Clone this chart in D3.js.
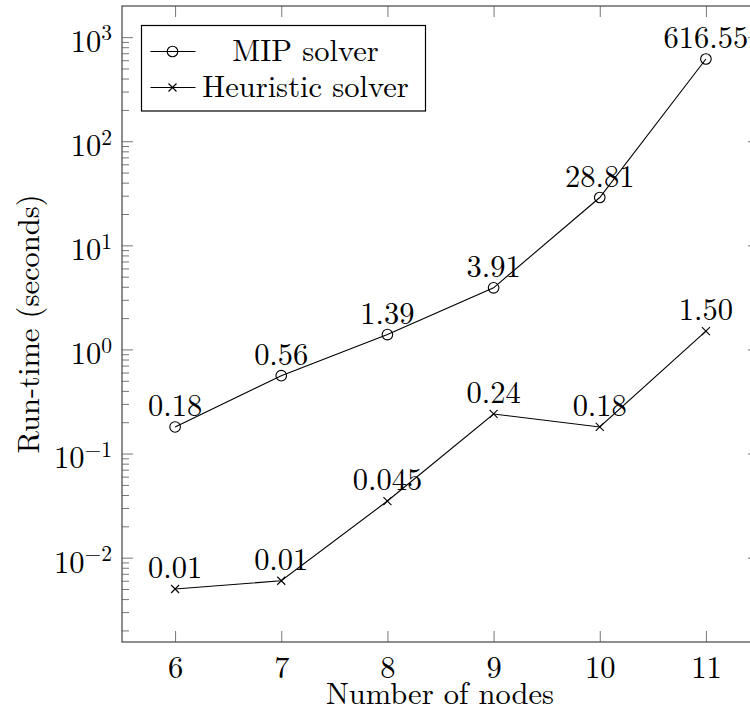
<!DOCTYPE html>
<html>
<head>
<meta charset="utf-8">
<script src="https://cdn.jsdelivr.net/npm/d3@7"></script>
<style>
  body { margin: 0; background: #fff; overflow: hidden; }
  svg { display: block; overflow: hidden; }
  .tick line { stroke: #777; stroke-width: 1; }
  .tick text { fill: #000; font-size: 30.5px; }
</style>
</head>
<body>
<svg id="chart"></svg>
<script>
// number of nodes (x axis)
var nodes = [6, 7, 8, 9, 10, 11];
// run-time in seconds
var mipTimes  = [0.18, 0.56, 1.39, 3.91, 28.81, 616.55];
var heurTimes = [0.005, 0.006, 0.035, 0.24, 0.18, 1.50];
// the texts written above each point
var mipLabels  = ["0.18", "0.56", "1.39", "3.91", "28.81", "616.55"];
var heurLabels = ["0.01", "0.01", "0.045", "0.24", "0.18", "1.50"];
// major y ticks are powers of ten
var decades = [-2, -1, 0, 1, 2, 3];
var seriesNames = ["MIP solver", "Heuristic solver"];

var serif = "Latin Modern Roman";
var fs = "30.5px";
var svgWidth = 750, svgHeight = 722;
var margin = { top: 6, left: 122 };
var plotWidth = 637, plotHeight = 636;

var svg = d3.select("#chart")
  .attr("width", svgWidth)
  .attr("height", svgHeight)
  .attr("font-family", serif);

// pgfplots style: enlarge limits by 10%
var xPad = (d3.max(nodes) - d3.min(nodes)) * 0.1;
var x = d3.scaleLinear()
  .domain([d3.min(nodes) - xPad, d3.max(nodes) + xPad])
  .range([0, plotWidth]);

var allTimes = mipTimes.concat(heurTimes);
var lo = Math.log10(d3.min(allTimes)), hi = Math.log10(d3.max(allTimes));
var yPad = (hi - lo) * 0.1;
var y = d3.scaleLog()
  .domain([Math.pow(10, lo - yPad), Math.pow(10, hi + yPad)])
  .range([plotHeight, 0]);

var plot = svg.append("g")
  .attr("transform", "translate(" + margin.left + "," + margin.top + ")");

var majors = decades.map(d => Math.pow(10, d));
// minor ticks 2..9 in every decade that falls in the domain
var minors = [];
d3.range(decades[0] - 1, decades[decades.length - 1] + 1).forEach(function(e) {
  d3.range(2, 10).forEach(function(m) {
    var v = m * Math.pow(10, e);
    if (v >= y.domain()[0] && v <= y.domain()[1]) minors.push(v);
  });
});

function sup(sel) {
  sel.each(function(d) {
    var t = d3.select(this).text(null).attr("dy", "0.47em");
    t.append("tspan").text("10");
    var e = Math.round(Math.log10(d));
    t.append("tspan").attr("dy", -11.5).attr("font-size", "21.5px")
      .text(e < 0 ? "\u2212" + (-e) : e);
  });
}

// left axis
var yl = plot.append("g").call(d3.axisLeft(y).tickValues(majors).tickSize(-11).tickPadding(10));
yl.selectAll(".tick text").call(sup);
plot.append("g").call(d3.axisLeft(y).tickValues(minors).tickSize(-7).tickFormat(""));
// right axis
plot.append("g").attr("transform", "translate(" + plotWidth + ",0)")
  .call(d3.axisRight(y).tickValues(majors).tickSize(-11).tickFormat(""));
plot.append("g").attr("transform", "translate(" + plotWidth + ",0)")
  .call(d3.axisRight(y).tickValues(minors).tickSize(-7).tickFormat(""));
// bottom + top axis
plot.append("g").attr("transform", "translate(0," + plotHeight + ")")
  .call(d3.axisBottom(x).tickValues(nodes).tickSize(-11).tickPadding(14).tickFormat(d3.format("d")));
plot.append("g")
  .call(d3.axisTop(x).tickValues(nodes).tickSize(-11).tickFormat(""));
plot.selectAll(".domain").remove();
// d3 puts sans-serif on every axis group
plot.selectAll("g").attr("font-family", serif);

// frame
plot.append("rect")
  .attr("width", plotWidth).attr("height", plotHeight)
  .attr("fill", "none").attr("stroke", "#444").attr("stroke-width", 1.2);

var line = d3.line().x((d, i) => x(nodes[i])).y(d => y(d));

function drawSeries(values, labels, mark) {
  plot.append("path").datum(values)
    .attr("d", line)
    .attr("fill", "none").attr("stroke", "#000").attr("stroke-width", 1.1);
  var pts = plot.selectAll(null).data(values).enter().append("g")
    .attr("transform", (d, i) => "translate(" + x(nodes[i]) + "," + y(d) + ")");
  mark(pts);
  plot.selectAll(null).data(values).enter().append("text")
    .attr("x", (d, i) => x(nodes[i]))
    .attr("y", d => y(d) - 11)
    .attr("text-anchor", "middle")
    .attr("font-size", fs)
    .text((d, i) => labels[i]);
}

function circleMark(g) {
  g.append("circle").attr("r", 5.3)
    .attr("fill", "none").attr("stroke", "#000").attr("stroke-width", 1.1);
}
function crossMark(g) {
  g.append("path").attr("d", "M-4,-4L4,4M-4,4L4,-4")
    .attr("stroke", "#000").attr("stroke-width", 1.1);
}

drawSeries(mipTimes, mipLabels, circleMark);
drawSeries(heurTimes, heurLabels, crossMark);

// legend
var legend = svg.append("g").attr("transform", "translate(141.5,25.5)");
legend.append("rect").attr("width", 284).attr("height", 85.5)
  .attr("fill", "#fff").attr("stroke", "#000").attr("stroke-width", 1.2);
var marks = [circleMark, crossMark];
seriesNames.forEach(function(name, i) {
  var row = legend.append("g").attr("transform", "translate(0," + (26 + i * 36) + ")");
  row.append("line").attr("x1", 9).attr("x2", 54)
    .attr("stroke", "#000").attr("stroke-width", 1.1);
  marks[i](row.append("g").attr("transform", "translate(31,0)"));
  row.append("text").attr("x", 164).attr("y", 9)
    .attr("text-anchor", "middle").attr("font-size", fs)
    .text(name);
});

// axis titles
svg.append("text")
  .attr("x", margin.left + plotWidth / 2 - 0.5)
  .attr("y", 704)
  .attr("text-anchor", "middle").attr("font-size", fs)
  .text("Number of nodes");

svg.append("text")
  .attr("transform", "translate(39," + (margin.top + plotHeight / 2) + ") rotate(-90)")
  .attr("text-anchor", "middle").attr("font-size", fs)
  .text("Run-time (seconds)");
</script>
</body>
</html>
